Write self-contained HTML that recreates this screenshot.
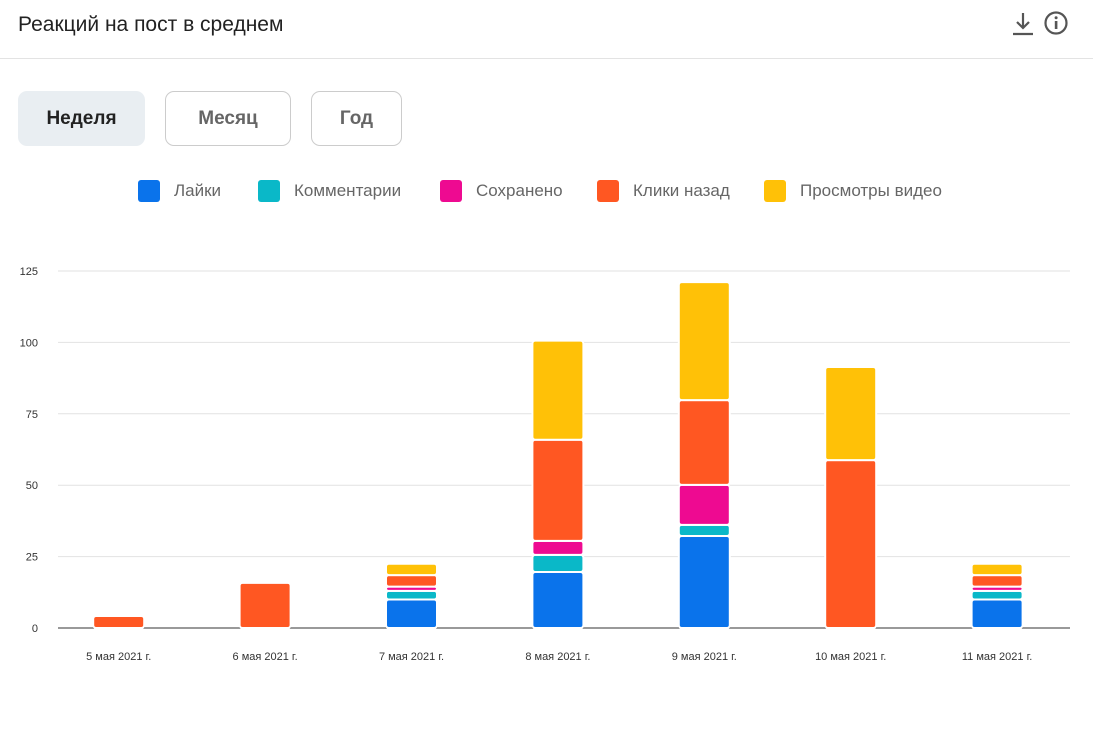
<!DOCTYPE html>
<html><head><meta charset="utf-8">
<style>
body{margin:0;width:1093px;height:729px;background:#fff;font-family:"Liberation Sans",sans-serif;position:relative;overflow:hidden}
.t{position:absolute;left:18px;top:13px;font-size:21px;color:#222;font-weight:500}
.sep{position:absolute;left:0;top:58px;width:1093px;height:1px;background:#e3e3e3}
.btn{position:absolute;top:91px;height:55px;box-sizing:border-box;border-radius:9px;font-size:19px;display:flex;align-items:center;justify-content:center;color:#666;border:1px solid #ccc;font-weight:bold}
.leg{position:absolute;top:180px;display:flex;align-items:center;font-size:17px;color:#666}
.leg i{display:inline-block;width:22px;height:22px;border-radius:3px;margin-right:14px}
</style></head><body>
<div class="t">Реакций на пост в среднем</div>
<svg style="position:absolute;left:1010px;top:10px" width="60" height="28">
<g stroke="#555" stroke-width="2.2" fill="none"><path d="M13 3v15M7 12l6 6 6-6M3 24h20"/></g>
<g><circle cx="46" cy="13" r="10.5" stroke="#555" stroke-width="2.2" fill="none"/><rect x="44.8" y="11" width="2.6" height="8" fill="#555"/><circle cx="46.1" cy="7.8" r="1.5" fill="#555"/></g>
</svg>
<div class="sep"></div>
<div class="btn" style="left:18px;width:127px;background:#e9eef2;border:none;color:#222">Неделя</div>
<div class="btn" style="left:165px;width:126px">Месяц</div>
<div class="btn" style="left:311px;width:91px">Год</div>
<div class="leg" style="left:138px"><i style="background:#0a73eb"></i>Лайки</div>
<div class="leg" style="left:258px"><i style="background:#0ab8c8"></i>Комментарии</div>
<div class="leg" style="left:440px"><i style="background:#ee0a91"></i>Сохранено</div>
<div class="leg" style="left:597px"><i style="background:#ff5722"></i>Клики назад</div>
<div class="leg" style="left:764px"><i style="background:#ffc107"></i>Просмотры видео</div>
<svg id="ch" style="position:absolute;left:0;top:0" width="1093" height="729"></svg>
<script>
const categories=["5 мая 2021 г.","6 мая 2021 г.","7 мая 2021 г.","8 мая 2021 г.","9 мая 2021 г.","10 мая 2021 г.","11 мая 2021 г."];
const likes=[0,0,10,19.6,32.2,0,10];
const comments=[0,0,3,6,3.9,0,3];
const saved=[0,0,1.5,4.9,14,0,1.5];
const clicks=[4.2,15.8,4,35.4,29.7,58.8,4];
const video=[0,0,4,34.7,41.3,32.6,4];
const yTicks=[0,25,50,75,100,125];
const seriesNames=["likes","comments","saved","clicks","video"];
const colors=["#0a73eb","#0ab8c8","#ee0a91","#ff5722","#ffc107"];
const svg=document.getElementById('ch');const NS="http://www.w3.org/2000/svg";
const y=v=>628-v*357/125;
const band=146.4,x0=45.5;
const xc=i=>x0+band*(i+0.5);
function mk(t,a){const e=document.createElementNS(NS,t);for(const k in a)e.setAttribute(k,a[k]);svg.appendChild(e);return e;}
yTicks.forEach(t=>{
 const l=mk('line',{x1:58,x2:1070,y1:y(t),y2:y(t),stroke:t===0?'#333':'#e2e2e2','stroke-width':1});
 
 
 const tx=mk('text',{x:38,y:y(t)+4,'text-anchor':'end','font-size':11,fill:'#333'});
 tx.textContent=t;
 
 
});
const series=[likes,comments,saved,clicks,video];
categories.forEach((c,i)=>{
 let base=0;
 series.forEach((s,k)=>{
  const v=s[i];if(v<=0)return;
  const r=mk('rect',{x:xc(i)-25.5,width:51,y:y(base+v),height:y(base)-y(base+v),fill:colors[k],stroke:'#fff','stroke-width':2,rx:3});
  
  
  base+=v;
 });
 const t=mk('text',{x:xc(i),y:660,'text-anchor':'middle','font-size':11,fill:'#333'});
 t.textContent=c;
 
 
});
</script>
</body></html>
